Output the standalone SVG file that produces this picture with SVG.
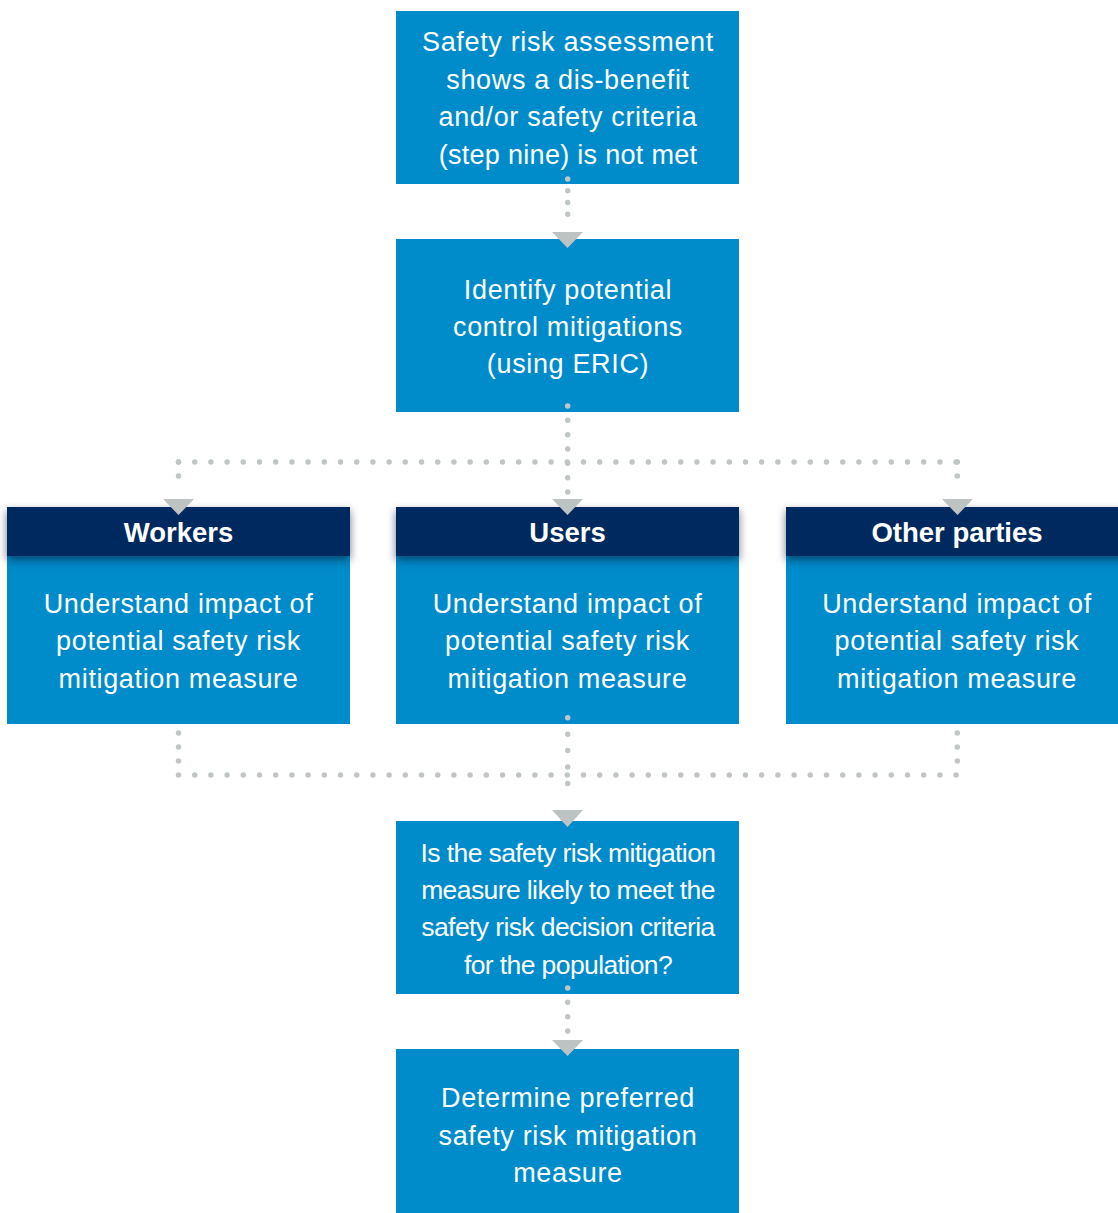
<svg xmlns="http://www.w3.org/2000/svg" width="1118" height="1213" viewBox="0 0 1118 1213">
  <defs>
    <style>
      .box { fill: #008bcb; }
      .head { fill: #002c5e; }
      .t { font-family: "Liberation Sans", Arial, sans-serif; font-size: 27px; fill: #ffffff; text-anchor: middle; letter-spacing: 0.65px; }
      .tc { font-family: "Liberation Sans", Arial, sans-serif; font-size: 26.5px; fill: #ffffff; text-anchor: middle; letter-spacing: -0.6px; }
      .th { font-family: "Liberation Sans", Arial, sans-serif; font-size: 27.5px; font-weight: bold; fill: #ffffff; text-anchor: middle; }
      .dots { fill: none; stroke: #c0c6c6; stroke-width: 5.5; stroke-linecap: round; }
      .arrow { fill: #bdc3c2; }
    </style>
    <filter id="headShadow" x="-5%" y="-20%" width="110%" height="160%">
      <feDropShadow dx="0" dy="4" stdDeviation="4" flood-color="#001a33" flood-opacity="0.6"/>
    </filter>
  </defs>

  <rect width="1118" height="1213" fill="#ffffff"/>

  <!-- step 1 -->
  <g id="node-assessment">
    <rect class="box" x="396" y="11" width="343" height="173"/>
    <text class="t" x="568" y="51">Safety risk assessment</text>
    <text class="t" x="568" y="88.5">shows a dis-benefit</text>
    <text class="t" x="568" y="126">and/or safety criteria</text>
    <text class="t" x="568" y="163.5" style="letter-spacing:0.3px">(step nine) is not met</text>
  </g>

  <!-- step 2 -->
  <g id="node-identify">
    <rect class="box" x="396" y="239" width="343" height="173"/>
    <text class="t" x="568" y="299">Identify potential</text>
    <text class="t" x="568" y="336">control mitigations</text>
    <text class="t" x="568" y="373">(using ERIC)</text>
  </g>

  <!-- population columns -->
  <g id="node-workers">
    <rect class="box" x="7" y="507" width="343" height="217"/>
    <rect class="head" x="7" y="507" width="343" height="49" filter="url(#headShadow)"/>
    <text class="th" x="178.5" y="542">Workers</text>
    <text class="t" x="178.5" y="613">Understand impact of</text>
    <text class="t" x="178.5" y="650">potential safety risk</text>
    <text class="t" x="178.5" y="687.5">mitigation measure</text>
  </g>

  <g id="node-users">
    <rect class="box" x="396" y="507" width="343" height="217"/>
    <rect class="head" x="396" y="507" width="343" height="49" filter="url(#headShadow)"/>
    <text class="th" x="567.5" y="542">Users</text>
    <text class="t" x="567.5" y="613">Understand impact of</text>
    <text class="t" x="567.5" y="650">potential safety risk</text>
    <text class="t" x="567.5" y="687.5">mitigation measure</text>
  </g>

  <g id="node-other-parties">
    <rect class="box" x="786" y="507" width="343" height="217"/>
    <rect class="head" x="786" y="507" width="343" height="49" filter="url(#headShadow)"/>
    <text class="th" x="957" y="542">Other parties</text>
    <text class="t" x="957" y="613">Understand impact of</text>
    <text class="t" x="957" y="650">potential safety risk</text>
    <text class="t" x="957" y="687.5">mitigation measure</text>
  </g>

  <!-- decision -->
  <g id="node-decision">
    <rect class="box" x="396" y="821" width="343" height="173"/>
    <text class="tc" x="568" y="862">Is the safety risk mitigation</text>
    <text class="tc" x="568" y="899">measure likely to meet the</text>
    <text class="tc" x="568" y="936">safety risk decision criteria</text>
    <text class="tc" x="568" y="973.5">for the population?</text>
  </g>

  <!-- outcome -->
  <g id="node-preferred">
    <rect class="box" x="396" y="1049" width="343" height="170"/>
    <text class="t" x="568" y="1107">Determine preferred</text>
    <text class="t" x="568" y="1145">safety risk mitigation</text>
    <text class="t" x="568" y="1182">measure</text>
  </g>

  <!-- dotted connectors -->
  <g id="connectors">
    <path class="dots" d="M567.7 179 V226" stroke-dasharray="0 11.75"/>
    <polygon class="arrow" points="552,232 583,232 567.5,248"/>

    <path class="dots" d="M567.7 406 V492" stroke-dasharray="0 14.33"/>
    <path class="dots" d="M178.5 462 H957.3" stroke-dasharray="0 16.2"/>
    <path class="dots" d="M178.5 462 V490" stroke-dasharray="0 14"/>
    <path class="dots" d="M957.3 462 V490" stroke-dasharray="0 14"/>
    <polygon class="arrow" points="163,499 194,499 178.5,515"/>
    <polygon class="arrow" points="552,499 583,499 567.5,515"/>
    <polygon class="arrow" points="942,499 973,499 957.5,515"/>

    <path class="dots" d="M178.5 733 V775" stroke-dasharray="0 14"/>
    <path class="dots" d="M957.3 733 V775" stroke-dasharray="0 14"/>
    <path class="dots" d="M178.5 775 H957.3" stroke-dasharray="0 16.2"/>
    <path class="dots" d="M567.7 717.7 V800" stroke-dasharray="0 16.46"/>
    <polygon class="arrow" points="552,810 583,810 567.5,827"/>

    <path class="dots" d="M567.7 988 V1031" stroke-dasharray="0 14.33"/>
    <polygon class="arrow" points="552,1040 583,1040 567.5,1056"/>
  </g>
</svg>
